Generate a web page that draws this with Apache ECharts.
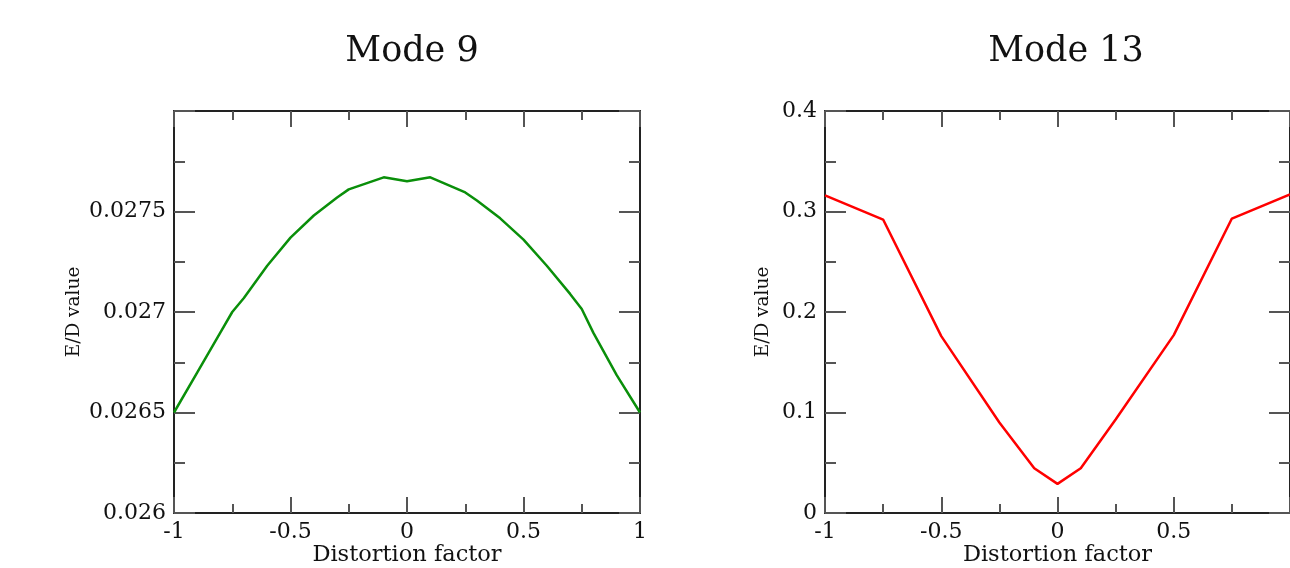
<!DOCTYPE html>
<html>
<head>
<meta charset="utf-8">
<script src="https://cdn.jsdelivr.net/npm/echarts@6/dist/echarts.min.js"></script>
<style>
html,body{margin:0;padding:0;background:#fff;}
#chart{width:1290px;height:568px;}
</style>
</head>
<body>
<div id="chart"></div>
<script>
// ---- data ----
const titles = ['Mode 9', 'Mode 13'];
const xName = 'Distortion factor';
const yName = 'E/D value';

const mode9X = [-1, -0.9, -0.8, -0.75, -0.7, -0.6, -0.5, -0.4, -0.3, -0.25, -0.2, -0.1, -0.05, 0, 0.05, 0.1, 0.2, 0.25, 0.3, 0.4, 0.5, 0.6, 0.7, 0.75, 0.8, 0.9, 1];
const mode9Y = [0.02650, 0.02670, 0.02690, 0.02700, 0.02707, 0.02723, 0.02737, 0.02748, 0.02757, 0.02761, 0.02763, 0.02767, 0.02766, 0.02765, 0.02766, 0.02767, 0.02762, 0.027595, 0.027555, 0.027466, 0.02736, 0.02723, 0.02709, 0.027015, 0.026896, 0.026686, 0.02650];

const mode13X = [-1, -0.75, -0.5, -0.25, -0.1, 0, 0.1, 0.25, 0.5, 0.75, 1];
const mode13Y = [0.316, 0.292, 0.176, 0.090, 0.0445, 0.029, 0.0445, 0.093, 0.177, 0.293, 0.317];

const xTickValues = [-1, -0.5, 0, 0.5, 1];
const y9Range = [0.026, 0.028];
const y13Range = [0, 0.4];

function pairs(xs, ys) { return xs.map((x, i) => [x, ys[i]]); }

const serif = 'DejaVu Serif';
const axisColor = '#222';
const tickColor = '#555';

function xAxisDef(gridIndex, pos, hideMax) {
  const bottom = pos === 'bottom';
  return {
    type: 'value', gridIndex, position: pos,
    min: -1, max: 1, interval: 0.5,
    name: bottom ? xName : '', nameLocation: 'middle', nameGap: 31, nameMoveOverlap: false,
    nameTextStyle: { fontFamily: serif, fontSize: 22.5, color: '#111' },
    axisLine: { show: true, onZero: false, lineStyle: { color: axisColor, width: 2 } },
    axisTick: { show: true, inside: true, length: 16, lineStyle: { color: tickColor, width: 2 } },
    minorTick: { show: true, splitNumber: 2, length: 9, lineStyle: { color: tickColor, width: 2 } },
    axisLabel: { show: bottom, fontFamily: serif, fontSize: 22, color: '#111', margin: 8,
      showMaxLabel: !hideMax,
      formatter: v => String(+v.toFixed(2)) },
    splitLine: { show: false }
  };
}

function yAxisDef(gridIndex, pos, range, interval, hideMax, digits) {
  const left = pos === 'left';
  return {
    type: 'value', gridIndex, position: pos,
    min: range[0], max: range[1], interval,
    name: left ? yName : '', nameLocation: 'middle', nameGap: gridIndex === 0 ? 90 : 52, nameMoveOverlap: false,
    nameTextStyle: { fontFamily: serif, fontSize: 18.5, color: '#111' },
    axisLine: { show: true, onZero: false, lineStyle: { color: axisColor, width: 2 } },
    axisTick: { show: true, inside: true, length: 21, lineStyle: { color: tickColor, width: 2 } },
    minorTick: { show: true, splitNumber: 2, length: 11, lineStyle: { color: tickColor, width: 2 } },
    axisLabel: { show: left, fontFamily: serif, fontSize: 22, color: '#111', margin: 8,
      showMaxLabel: !hideMax,
      formatter: v => String(+v.toFixed(digits)) },
    splitLine: { show: false }
  };
}

const chart = echarts.init(document.getElementById('chart'), null, { renderer: 'canvas' });
chart.setOption({
  backgroundColor: '#fff',
  animation: false,
  title: [
    { text: titles[0], left: 407, top: 29, textAlign: 'center',
      textStyle: { fontFamily: serif, fontSize: 35, fontWeight: 'normal', color: '#111' } },
    { text: titles[1], left: 1061, top: 29, textAlign: 'center',
      textStyle: { fontFamily: serif, fontSize: 35, fontWeight: 'normal', color: '#111' } }
  ],
  grid: [
    { left: 174, top: 111, width: 466, height: 402, outerBoundsMode: 'none', containLabel: false },
    { left: 825, top: 111, width: 465, height: 402, outerBoundsMode: 'none', containLabel: false }
  ],
  xAxis: [
    xAxisDef(0, 'bottom', false), xAxisDef(0, 'top', false),
    xAxisDef(1, 'bottom', true), xAxisDef(1, 'top', true)
  ],
  yAxis: [
    yAxisDef(0, 'left', y9Range, 0.0005, true, 4), yAxisDef(0, 'right', y9Range, 0.0005, true, 4),
    yAxisDef(1, 'left', y13Range, 0.1, false, 2), yAxisDef(1, 'right', y13Range, 0.1, false, 2)
  ],
  series: [
    { type: 'line', xAxisIndex: 0, yAxisIndex: 0, data: pairs(mode9X, mode9Y),
      showSymbol: false, symbol: 'none', lineStyle: { color: '#0a8f0a', width: 2.5 } },
    { type: 'line', xAxisIndex: 2, yAxisIndex: 2, data: pairs(mode13X, mode13Y),
      showSymbol: false, symbol: 'none', lineStyle: { color: '#ff0000', width: 2.5 } }
  ]
});
</script>
</body>
</html>
